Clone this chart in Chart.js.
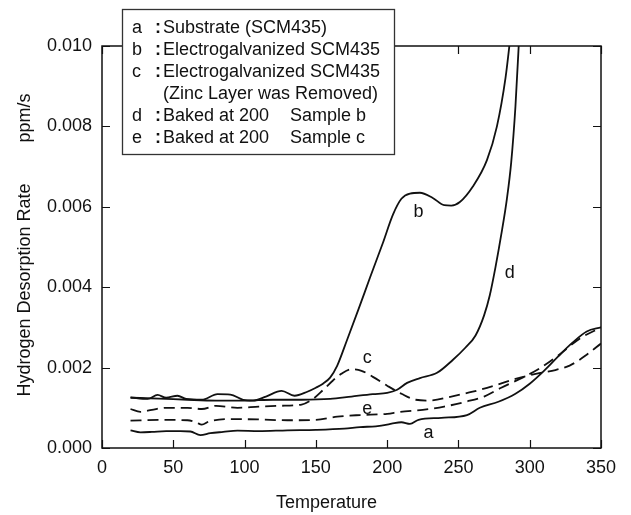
<!DOCTYPE html>
<html>
<head>
<meta charset="utf-8">
<script src="https://cdn.jsdelivr.net/npm/chart.js@4.4.1/dist/chart.umd.min.js"></script>
<style>
  html, body { margin: 0; padding: 0; background: #fff; }
  #wrap { width: 631px; height: 515px; }
</style>
</head>
<body>
<div id="wrap"><canvas id="canvas-1" width="631" height="515"></canvas></div>
<script>
(function () {
    'use strict';

    // temperature (x) and desorption rate (y, ppm/s) for each sample
    var aTemp = [20, 27, 35, 45, 55, 62, 69, 76, 85, 95, 110, 130, 150, 170, 181, 192, 200, 205, 210, 216, 222, 238, 256, 265, 278, 290, 300, 310, 320, 330, 340, 350];
    var aRate = [0.00044, 0.00039, 0.0004, 0.00042, 0.00042, 0.00041, 0.00032, 0.00037, 0.0004, 0.00043, 0.00042, 0.00044, 0.00045, 0.00048, 0.00052, 0.00054, 0.00058, 0.00062, 0.00064, 0.0006, 0.0007, 0.00075, 0.00082, 0.001, 0.00115, 0.00135, 0.0016, 0.00192, 0.00228, 0.00262, 0.0029, 0.003];

    var bTemp = [20, 32, 39, 45, 53, 59, 70, 81, 90, 99, 106, 115, 126, 135, 144, 150, 155, 160, 165, 172, 180, 188, 197, 204, 210, 216, 223, 232, 240, 245, 251, 260, 270, 277, 283, 287];
    var bRate = [0.00126, 0.00122, 0.00132, 0.00125, 0.0013, 0.00122, 0.0012, 0.00134, 0.00133, 0.0012, 0.00118, 0.00128, 0.00142, 0.0013, 0.0014, 0.0015, 0.0016, 0.00175, 0.00205, 0.0027, 0.00346, 0.00424, 0.0051, 0.0058, 0.0062, 0.00633, 0.00635, 0.00622, 0.00604, 0.00603, 0.00612, 0.0065, 0.00716, 0.008, 0.0092, 0.0104];

    var cTemp = [20, 27, 35, 45, 60, 70, 80, 95, 110, 125, 140, 148, 155, 162, 168, 175, 182, 190, 200, 210, 220, 230, 245, 260, 275, 290, 305, 318, 328, 340, 350];
    var cRate = [0.00097, 0.0009, 0.00095, 0.001, 0.001, 0.00097, 0.00105, 0.001, 0.00103, 0.00105, 0.00108, 0.00122, 0.00144, 0.00168, 0.00185, 0.00196, 0.00192, 0.00177, 0.00155, 0.00135, 0.0012, 0.00118, 0.00128, 0.0014, 0.00155, 0.00172, 0.00185, 0.00194, 0.00205, 0.00232, 0.0026];

    var dTemp = [20, 40, 60, 80, 100, 120, 140, 160, 175, 190, 200, 207, 214, 223, 235, 246, 255, 262, 268, 272, 276, 280, 284, 287, 290, 293];
    var dRate = [0.00125, 0.00123, 0.0012, 0.00118, 0.00118, 0.0012, 0.0012, 0.00122, 0.00128, 0.00134, 0.00137, 0.00145, 0.00162, 0.00174, 0.00187, 0.00219, 0.0025, 0.0028, 0.0033, 0.0038, 0.0045, 0.0053, 0.0062, 0.0071, 0.0085, 0.0105];

    var eTemp = [20, 40, 60, 66, 70, 75, 90, 110, 130, 150, 165, 181, 200, 209, 225, 240, 255, 268, 280, 295, 307, 320, 335, 350];
    var eRate = [0.00068, 0.0007, 0.00069, 0.00064, 0.00058, 0.00066, 0.00072, 0.00071, 0.00069, 0.0007, 0.00078, 0.00082, 0.00085, 0.0009, 0.00095, 0.00103, 0.00115, 0.00128, 0.0015, 0.00175, 0.00198, 0.0023, 0.00272, 0.003];

    var xTicks = [0, 50, 100, 150, 200, 250, 300, 350];
    var yTicks = [0, 0.002, 0.004, 0.006, 0.008, 0.010];

    var legendLines = [
        ['a', 'Substrate (SCM435)', ''],
        ['b', 'Electrogalvanized SCM435', ''],
        ['c', 'Electrogalvanized SCM435', ''],
        ['', '(Zinc Layer was Removed)', ''],
        ['d', 'Baked at 200', 'Sample b'],
        ['e', 'Baked at 200', 'Sample c']
    ];

    // where each curve letter sits, in data units
    var curveTags = [
        { text: 'a', x: 229, y: 0.00036 },
        { text: 'b', x: 222, y: 0.00588 },
        { text: 'c', x: 186, y: 0.00224 },
        { text: 'd', x: 286, y: 0.00436 },
        { text: 'e', x: 186, y: 0.00097 }
    ];

    var FONT = '"Liberation Sans", Arial, sans-serif';
    var INK = '#111';

    function points(xs, ys) {
        var out = [];
        for (var i = 0; i < xs.length; i++) {
            out.push({ x: xs[i], y: ys[i] });
        }
        return out;
    }

    function series(label, xs, ys, dashed) {
        return {
            label: label,
            data: points(xs, ys),
            borderColor: INK,
            borderWidth: 1.8,
            borderDash: dashed ? [11, 6] : [],
            pointRadius: 0,
            fill: false,
            cubicInterpolationMode: 'monotone'
        };
    }

    // frame, inward ticks, curve letters, legend box and axis titles
    var decorations = {
        id: 'decorations',
        beforeDatasetsDraw: function (chart) {
            var ctx = chart.ctx;
            var area = chart.chartArea;
            var xs = chart.scales.x;
            var ys = chart.scales.y;
            var tick = 8;
            ctx.save();
            ctx.strokeStyle = INK;
            ctx.lineWidth = 1.5;
            ctx.strokeRect(area.left, area.top, area.right - area.left, area.bottom - area.top);
            ctx.beginPath();
            xTicks.forEach(function (v) {
                var px = Math.round(xs.getPixelForValue(v)) + 0.5;
                ctx.moveTo(px, area.bottom);
                ctx.lineTo(px, area.bottom - tick);
                ctx.moveTo(px, area.top);
                ctx.lineTo(px, area.top + tick);
            });
            yTicks.forEach(function (v) {
                var py = Math.round(ys.getPixelForValue(v)) + 0.5;
                ctx.moveTo(area.left, py);
                ctx.lineTo(area.left + tick, py);
                ctx.moveTo(area.right, py);
                ctx.lineTo(area.right - tick, py);
            });
            ctx.lineWidth = 1.2;
            ctx.stroke();
            ctx.restore();
        },
        afterDraw: function (chart) {
            var ctx = chart.ctx;
            var area = chart.chartArea;
            var xs = chart.scales.x;
            var ys = chart.scales.y;
            ctx.save();
            ctx.fillStyle = INK;
            ctx.textAlign = 'center';
            ctx.textBaseline = 'middle';
            ctx.font = '18px ' + FONT;
            curveTags.forEach(function (t) {
                ctx.fillText(t.text, xs.getPixelForValue(t.x), ys.getPixelForValue(t.y));
            });

            // legend box
            var bx = 122, by = 9, bw = 272, bh = 145;
            ctx.fillStyle = '#fff';
            ctx.fillRect(bx, by, bw, bh);
            ctx.strokeStyle = '#333';
            ctx.lineWidth = 1.3;
            ctx.strokeRect(bx + 0.5, by + 0.5, bw, bh);
            ctx.fillStyle = INK;
            ctx.textAlign = 'left';
            legendLines.forEach(function (row, i) {
                var y = by + 19 + i * 22;
                ctx.font = '18px ' + FONT;
                if (row[0]) {
                    ctx.fillText(row[0], bx + 10, y);
                    ctx.font = 'bold 18px ' + FONT;
                    ctx.fillText(':', bx + 33, y);
                }
                ctx.font = '18px ' + FONT;
                ctx.fillText(row[1], bx + 41, y);
                if (row[2]) {
                    ctx.fillText(row[2], bx + 168, y);
                }
            });

            // axis titles
            ctx.font = '18px ' + FONT;
            ctx.textAlign = 'center';
            ctx.fillText('Temperature', area.left + (area.right - area.left) * 0.45, 503);
            ctx.translate(25, 0);
            ctx.rotate(-Math.PI / 2);
            ctx.fillText('Hydrogen Desorption Rate', -290, 0);
            ctx.fillText('ppm/s', -118, 0);
            ctx.restore();
        }
    };

    var ctx = document.getElementById('canvas-1');
    var chart = new Chart(ctx, {
        type: 'line',
        data: {
            datasets: [
                series('a', aTemp, aRate, false),
                series('b', bTemp, bRate, false),
                series('c', cTemp, cRate, true),
                series('d', dTemp, dRate, false),
                series('e', eTemp, eRate, true)
            ]
        },
        options: {
            responsive: false,
            animation: false,
            layout: { padding: { top: 46, right: 30, left: 0, bottom: 0 } },
            plugins: {
                legend: { display: false },
                tooltip: { enabled: false }
            },
            scales: {
                x: {
                    type: 'linear',
                    min: 0,
                    max: 350,
                    afterFit: function (s) { s.height = 67; },
                    afterBuildTicks: function (s) {
                        s.ticks = xTicks.map(function (v) { return { value: v }; });
                    },
                    grid: { display: false, drawTicks: false },
                    border: { display: false },
                    ticks: {
                        padding: 9,
                        color: INK,
                        maxRotation: 0,
                        font: { family: FONT, size: 18 }
                    }
                },
                y: {
                    min: 0,
                    max: 0.01,
                    afterFit: function (s) { s.width = 102; },
                    afterBuildTicks: function (s) {
                        s.ticks = yTicks.map(function (v) { return { value: v }; });
                    },
                    grid: { display: false, drawTicks: false },
                    border: { display: false },
                    ticks: {
                        padding: 10,
                        color: INK,
                        font: { family: FONT, size: 18 },
                        callback: function (v) { return v.toFixed(3); }
                    }
                }
            }
        },
        plugins: [decorations]
    });
})();
</script>
</body>
</html>
